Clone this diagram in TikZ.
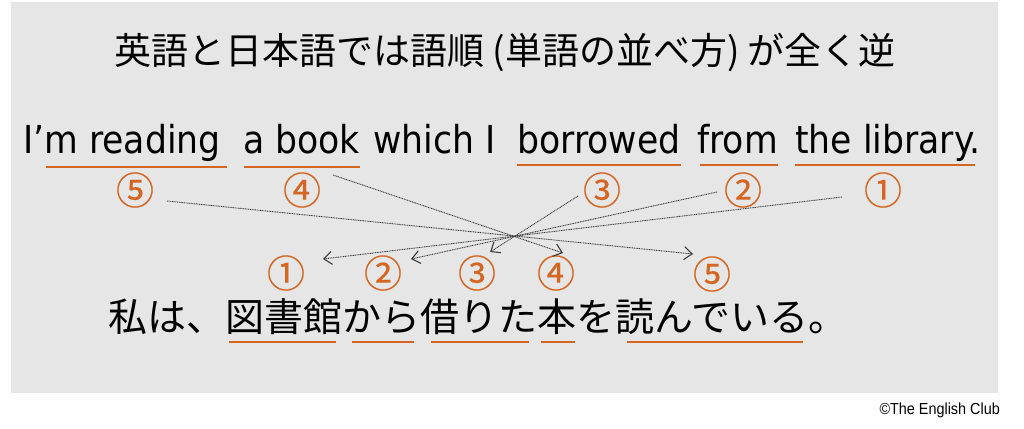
\documentclass[tikz,border=0pt]{standalone}
\usepackage{fontspec}
\setmainfont{DejaVu Sans}
\newfontfamily\jpfont{Noto Sans CJK JP}
\newfontfamily\numfont[FakeBold=0.4]{Noto Sans CJK JP}
\newfontfamily\enfont[FakeStretch=0.9]{DejaVu Sans}
\newfontfamily\crfont[FakeStretch=0.9]{Liberation Sans}
\usetikzlibrary{arrows.meta}
\definecolor{bggray}{RGB}{230,230,230}
\definecolor{ulorange}{RGB}{212,102,34}
\definecolor{dotgray}{RGB}{60,60,60}
\begin{document}
\begin{tikzpicture}[x=1pt,y=-1pt,
  entext/.style={inner sep=0pt, anchor=base west, text=black,
    font=\enfont\fontsize{38.5}{46}\selectfont},
  jptext/.style={inner sep=0pt, anchor=base west, text=black,
    font=\jpfont\fontsize{39}{47}\selectfont},
  titletext/.style={inner sep=0pt, anchor=base, text=black,
    font=\jpfont\fontsize{37}{44}\selectfont},
  numlabel/.style={inner sep=0pt, anchor=center, text=ulorange,
    font=\numfont\fontsize{38}{38}\selectfont},
  uline/.style={draw=ulorange, line width=2pt},
  orderline/.style={draw=dotgray, line width=0.9pt,
    dash pattern=on 1pt off 0.7pt,
    -{Straight Barb[length=8pt,width=13pt,line width=1.1pt]}},
  credit/.style={inner sep=0pt, anchor=east, text=black,
    font=\crfont\fontsize{16}{18}\selectfont}]
  \useasboundingbox (0,0) rectangle (1024,428);
  \fill[white] (0,0) rectangle (1024,428);
  \fill[bggray] (11,2) rectangle (998,393);

  % title
  \node[titletext] (title) at (505,64) {英語と日本語では語順 (単語の並べ方) が全く逆};

  % English sentence
  \node[entext] (w1) at (23,153) {I’m reading};
  \node[entext] (w2) at (243,153) {a book};
  \node[entext] (w3) at (373,153) {which I};
  \node[entext] (w4) at (517,153) {borrowed};
  \node[entext] (w5) at (697,153) {from};
  \node[entext] (w6) at (795,153) {the library.};

  \draw[uline] (46,167) -- (227,167);
  \draw[uline] (244,167) -- (360,167);
  \draw[uline] (517,165) -- (681,165);
  \draw[uline] (700,165) -- (778,165);
  \draw[uline] (795,165) -- (975,165);

  % upper numbers
  \node[numlabel] (u5) at (135,190) {⑤};
  \node[numlabel] (u4) at (302,190) {④};
  \node[numlabel] (u3) at (602,190) {③};
  \node[numlabel] (u2) at (743,190) {②};
  \node[numlabel] (u1) at (883,190) {①};

  % lower numbers
  \node[numlabel] (l1) at (286,273) {①};
  \node[numlabel] (l2) at (383,273) {②};
  \node[numlabel] (l3) at (477,273) {③};
  \node[numlabel] (l4) at (556,273) {④};
  \node[numlabel] (l5) at (712,274) {⑤};

  % connector ends
  \coordinate (s5) at (167,201);
  \coordinate (s4) at (333,175);
  \coordinate (s3) at (578,196);
  \coordinate (s2) at (717,192);
  \coordinate (s1) at (842,197);
  \coordinate (e5) at (693,254);
  \coordinate (e4) at (563,253);
  \coordinate (e3) at (490,252);
  \coordinate (e2) at (411,259);
  \coordinate (e1) at (323,259);

  \draw[orderline] (s5) -- (e5);
  \draw[orderline] (s4) -- (e4);
  \draw[orderline] (s3) -- (e3);
  \draw[orderline] (s2) -- (e2);
  \draw[orderline] (s1) -- (e1);

  % Japanese sentence
  \node[jptext] (jp) at (108,331) {私は、図書館から借りた本を読んでいる。};
  \draw[uline] (229,342) -- (336,342);
  \draw[uline] (352,342) -- (414,342);
  \draw[uline] (431,342) -- (529,342);
  \draw[uline] (541,342) -- (575,342);
  \draw[uline] (627,342) -- (803,342);

  % credit
  \node[credit] (cr) at (1000,410) {©The English Club};
\end{tikzpicture}
\end{document}
